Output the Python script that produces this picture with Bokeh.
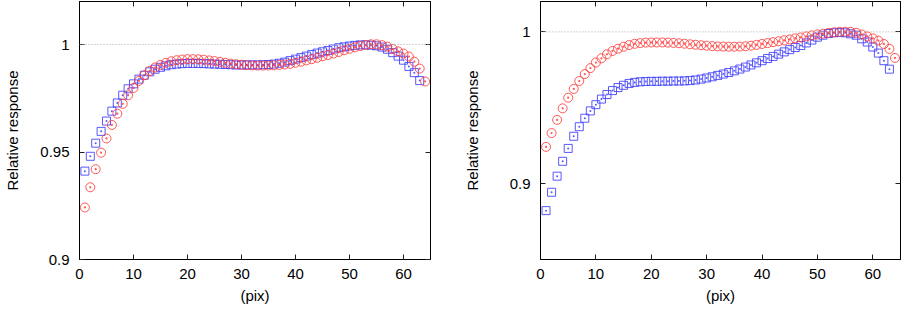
from bokeh.plotting import figure
from bokeh.layouts import row
from bokeh.models import Range1d, FixedTicker, LinearAxis, Span
from bokeh.embed import file_html
from bokeh.resources import INLINE

# ---------------- data ----------------
x_circ = list(range(1, 65))
x_sq = list(range(1, 64))

left_red = [0.9242, 0.9336, 0.9420, 0.9497, 0.9563, 0.9626, 0.9678, 0.9724, 0.9764, 0.9798,
            0.9831, 0.9857, 0.9877, 0.9893, 0.9905, 0.9915, 0.9922, 0.9927, 0.9930, 0.9932,
            0.9932, 0.9931, 0.9929, 0.9926, 0.9923, 0.9919, 0.9915, 0.9911, 0.9908, 0.9906,
            0.9904, 0.9903, 0.9902, 0.9902, 0.9902, 0.9903, 0.9905, 0.9907, 0.9910, 0.9915,
            0.9920, 0.9926, 0.9932, 0.9938, 0.9945, 0.9951, 0.9958, 0.9965, 0.9973, 0.9980,
            0.9987, 0.9993, 0.9998, 1.0001, 1.0001, 0.9997, 0.9990, 0.9979, 0.9968, 0.9958,
            0.9944, 0.9920, 0.9888, 0.9828]
left_blue = [0.9411, 0.9480, 0.9541, 0.9596, 0.9644, 0.9690, 0.9728, 0.9764, 0.9794, 0.9817,
             0.9839, 0.9857, 0.9873, 0.9885, 0.9894, 0.9901, 0.9906, 0.9909, 0.9911, 0.9912,
             0.9912, 0.9912, 0.9911, 0.9910, 0.9909, 0.9908, 0.9907, 0.9906, 0.9905, 0.9905,
             0.9905, 0.9905, 0.9905, 0.9906, 0.9907, 0.9909, 0.9913, 0.9918, 0.9925, 0.9932,
             0.9939, 0.9946, 0.9953, 0.9960, 0.9966, 0.9972, 0.9979, 0.9985, 0.9989, 0.9993,
             0.9996, 0.9998, 0.9998, 0.9997, 0.9994, 0.9988, 0.9978, 0.9962, 0.9946, 0.9927,
             0.9898, 0.9869, 0.9832]

right_red = [0.9242, 0.9333, 0.9420, 0.9496, 0.9566, 0.9624, 0.9676, 0.9722, 0.9761, 0.9798,
             0.9826, 0.9852, 0.9874, 0.9889, 0.9902, 0.9913, 0.9921, 0.9926, 0.9929, 0.9930,
             0.9930, 0.9930, 0.9929, 0.9927, 0.9925, 0.9922, 0.9918, 0.9915, 0.9912, 0.9909,
             0.9906, 0.9904, 0.9903, 0.9902, 0.9902, 0.9903, 0.9905, 0.9909, 0.9914, 0.9920,
             0.9926, 0.9932, 0.9938, 0.9944, 0.9950, 0.9957, 0.9963, 0.9970, 0.9977, 0.9983,
             0.9988, 0.9993, 0.9997, 1.0000, 1.0001, 1.0000, 0.9994, 0.9983, 0.9970, 0.9957,
             0.9942, 0.9920, 0.9888, 0.9828]
right_blue = [0.8822, 0.8943, 0.9049, 0.9147, 0.9232, 0.9312, 0.9375, 0.9431, 0.9479, 0.9520,
              0.9557, 0.9587, 0.9613, 0.9633, 0.9648, 0.9660, 0.9667, 0.9671, 0.9673, 0.9674,
              0.9674, 0.9675, 0.9675, 0.9676, 0.9676, 0.9677, 0.9679, 0.9683, 0.9689, 0.9696,
              0.9704, 0.9713, 0.9722, 0.9732, 0.9743, 0.9755, 0.9768, 0.9782, 0.9796, 0.9810,
              0.9824, 0.9838, 0.9853, 0.9868, 0.9883, 0.9897, 0.9910, 0.9927, 0.9946, 0.9965,
              0.9978, 0.9989, 0.9994, 0.9996, 0.9994, 0.9987, 0.9978, 0.9954, 0.9933, 0.9900,
              0.9860, 0.9810, 0.9754]

x_ticks = [0, 10, 20, 30, 40, 50, 60]
left_y_ticks = [0.9, 0.95, 1.0]
left_y_labels = {0.9: "0.9", 0.95: "0.95", 1.0: "1"}
right_y_ticks = [0.9, 1.0]
right_y_labels = {0.9: "0.9", 1.0: "1"}

FONT = "Liberation Sans"
RED = "#ff3c3c"
BLUE = "#3c3cff"


def style_axis(ax, ticks, overrides=None, labels=True):
    ax.ticker = FixedTicker(ticks=ticks)
    ax.minor_tick_line_color = None
    ax.major_tick_in = 5
    ax.major_tick_out = 0
    ax.major_tick_line_color = "#202020"
    ax.axis_line_color = "black"
    ax.axis_line_width = 1
    if overrides:
        ax.major_label_overrides = overrides
    if labels:
        ax.major_label_text_font = FONT
        ax.major_label_text_font_size = "15px"
        ax.major_label_text_color = "black"
    else:
        ax.major_label_text_font_size = "0px"
        ax.major_label_text_color = None
        ax.major_label_standoff = 0


def make(width, mbl, mbr, yr, yticks, ylabels, red, blue, ylab_standoff):
    p = figure(width=width, height=309, output_backend="svg", toolbar_location=None,
               x_range=Range1d(0, 65), y_range=Range1d(*yr),
               min_border_left=mbl, min_border_right=mbr,
               min_border_top=1, min_border_bottom=50)
    p.grid.visible = False
    p.outline_line_color = "black"
    p.outline_line_width = 1
    p.background_fill_color = "white"
    p.border_fill_color = "white"

    style_axis(p.xaxis[0], x_ticks)
    p.xaxis[0].major_label_standoff = 9
    p.xaxis[0].axis_label = "(pix)"
    p.xaxis[0].axis_label_standoff = 5
    style_axis(p.yaxis[0], yticks, ylabels)
    p.yaxis[0].major_label_standoff = 10
    p.yaxis[0].axis_label = "Relative response"
    p.yaxis[0].axis_label_standoff = ylab_standoff
    for ax in (p.xaxis[0], p.yaxis[0]):
        ax.axis_label_text_font = FONT
        ax.axis_label_text_font_size = "15px"
        ax.axis_label_text_font_style = "normal"
        ax.axis_label_text_color = "black"

    top = LinearAxis()
    style_axis(top, x_ticks, labels=False)
    p.add_layout(top, "above")
    rgt = LinearAxis()
    style_axis(rgt, yticks, labels=False)
    p.add_layout(rgt, "right")

    p.add_layout(Span(location=1.0, dimension="width", line_color="#a8a8a8",
                      line_dash="1 2", line_width=1))

    p.scatter(x_sq, blue, marker="square_dot", size=8, line_color=BLUE,
              fill_color=None, line_width=1, line_alpha=0.85)
    p.scatter(x_circ, red, marker="circle_dot", size=9, line_color=RED,
              fill_color=None, line_width=1, line_alpha=0.85)
    return p


p1 = make(460, 79, 30, (0.9, 1.02), left_y_ticks, left_y_labels, left_red, left_blue, 16)
p2 = make(441, 80, 1, (0.85, 1.02), right_y_ticks, right_y_labels, right_red, right_blue, 26)

p = row(p1, p2)
open("out.html", "w").write(file_html(p, INLINE))
